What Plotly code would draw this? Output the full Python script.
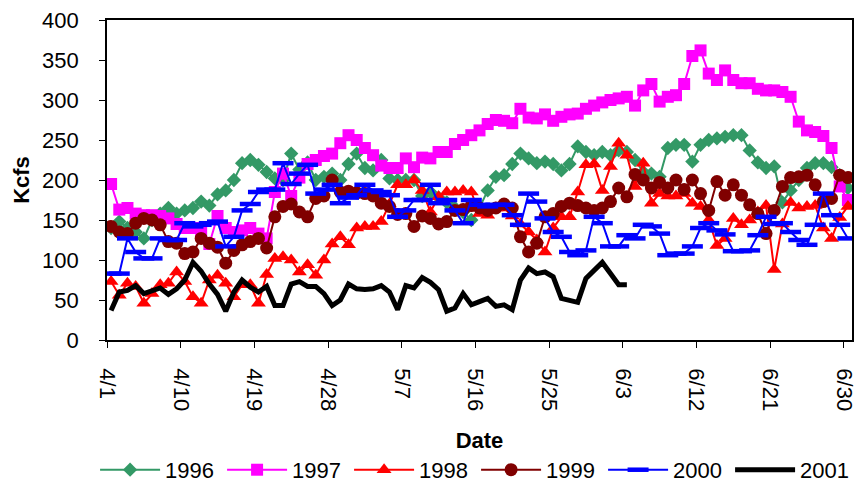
import pandas as pd
import plotly.graph_objects as go

# Daily dates 4/1 .. 6/30 (points plotted at mid-day, like an Excel date axis)
dates = pd.date_range("2001-04-01 12:00", "2001-06-30 12:00", freq="D")

tick_dates = ["2001-04-01", "2001-04-10", "2001-04-19", "2001-04-28", "2001-05-07",
              "2001-05-16", "2001-05-25", "2001-06-03", "2001-06-12", "2001-06-21",
              "2001-06-30"]
tick_labels = ["4/1", "4/10", "4/19", "4/28", "5/7", "5/16", "5/25", "6/3",
               "6/12", "6/21", "6/30"]

y1996 = [140, 148, 140, 135, 127, 150, 158, 165, 158, 162,
         165, 173, 168, 182, 187, 200, 221, 225, 219, 210,
         202, 200, 233, 213, 222, 200, 204, 208, 200, 220,
         233, 215, 212, 225, 202, 200, 200, 200, 180, 185,
         178, 172, 165, 160, 150, 165, 187, 204, 206, 220,
         233, 227, 221, 223, 220, 212, 220, 242, 235, 231,
         235, 231, 237, 235, 225, 210, 208, 204, 240, 244,
         244, 223, 244, 250, 252, 254, 256, 256, 237, 222,
         215, 217, 172, 187, 200, 215, 221, 221, 216, 206, 190]

y1997 = [195, 163, 165, 158, 156, 156, 155, 152, 145, 140,
         140, 135, 120, 155, 140, 135, 137, 140, 133, 127,
         185, 208, 180, 203, 220, 225, 230, 233, 246, 256,
         250, 240, 231, 218, 215, 215, 227, 216, 228, 227,
         235, 235, 245, 250, 256, 262, 270, 275, 274, 271,
         289, 278, 277, 282, 274, 279, 282, 283, 289, 293,
         297, 300, 302, 304, 293, 312, 320, 298, 304, 306,
         320, 355, 362, 333, 325, 337, 325, 321, 321, 314,
         312, 312, 310, 304, 273, 262, 260, 255, 240, 192, 175]

y1998 = [73, 56, 71, 67, 46, 58, 69, 71, 85, 73,
         54, 46, 75, 81, 71, 54, 69, 69, 46, 82,
         102, 104, 100, 85, 94, 81, 100, 120, 129, 119,
         140, 142, 142, 148, 170, 194, 194, 200, 187, 160,
         179, 185, 185, 187, 185, 158, 156, 165, 165, 155,
         145, 135, 125, 110, 140, 154, 154, 185, 219, 220,
         187, 217, 246, 231, 192, 221, 171, 183, 180, 180,
         183, 171, 167, 150, 118, 127, 152, 144, 150, 160,
         168, 88, 145, 172, 165, 167, 168, 140, 127, 153, 167]

y1999 = [142, 135, 133, 146, 152, 150, 144, 123, 121, 108,
         110, 127, 121, 116, 96, 112, 119, 123, 127, 115,
         154, 167, 170, 160, 154, 177, 180, 200, 185, 186,
         184, 183, 180, 171, 167, 157, 158, 142, 155, 152,
         145, 148, 162, 163, 168, 165, 162, 165, 170, 165,
         129, 110, 121, 154, 158, 167, 171, 168, 165, 162,
         165, 173, 190, 179, 207, 200, 190, 197, 190, 200,
         188, 200, 183, 162, 198, 181, 194, 181, 169, 158,
         133, 162, 192, 203, 204, 206, 194, 173, 177, 206, 203]

y2000 = [83, 83, 127, 110, 102, 102, 127, 125, 125, 146,
         142, 144, 146, 148, 117, 129, 162, 170, 185, 188,
         188, 221, 195, 208, 219, 183, 188, 194, 171, 178,
         181, 194, 187, 185, 181, 154, 162, 175, 175, 194,
         171, 175, 162, 146, 175, 169, 167, 169, 169, 156,
         144, 183, 173, 152, 135, 129, 110, 106, 112, 154,
         146, 117, 117, 131, 127, 144, 142, 133, 106, 108,
         108, 117, 140, 146, 137, 132, 111, 111, 112, 131,
         154, 145, 146, 135, 125, 119, 144, 183, 156, 144, 127]

y2001 = [37, 60, 62, 68, 58, 62, 65, 57, 64, 75,
         97, 86, 70, 57, 36, 60, 75, 66, 60, 67,
         43, 43, 70, 73, 67, 67, 58, 43, 50, 70,
         64, 63, 64, 68, 60, 38, 68, 65, 78, 72,
         63, 36, 40, 58, 44, 48, 52, 42, 44, 38,
         75, 90, 83, 85, 79, 52, 50, 47, 77, 88,
         97, 83, 69, 69]

series = [
    ("1996", y1996, "#339966", dict(symbol="diamond", size=11)),
    ("1997", y1997, "#FF00FF", dict(symbol="square", size=12)),
    ("1998", y1998, "#FF0000", dict(symbol="triangle-up", size=13)),
    ("1999", y1999, "#800000", dict(symbol="circle", size=13)),
]

fig = go.Figure()
for name, ys, col, mk in series:
    fig.add_trace(go.Scatter(
        x=dates[:len(ys)], y=ys, name=name, mode="lines+markers",
        line=dict(color=col, width=2),
        marker=dict(color=col, line=dict(width=0), **mk)))

fig.add_trace(go.Scatter(
    x=dates[:len(y2000)], y=y2000, name="2000", mode="lines+markers",
    line=dict(color="#0000FF", width=2),
    marker=dict(symbol="line-ew", size=15, color="#0000FF",
                line=dict(color="#0000FF", width=4.5))))

fig.add_trace(go.Scatter(
    x=dates[:len(y2001)], y=y2001, name="2001", mode="lines",
    line=dict(color="#000000", width=5)))

font = "Arial, Liberation Sans, sans-serif"
fig.update_layout(
    width=858, height=489,
    margin=dict(l=107, r=6, t=20, b=149, autoexpand=False),
    paper_bgcolor="white", plot_bgcolor="white",
    font=dict(family=font, size=22, color="black"),
    showlegend=True,
    legend=dict(orientation="h", x=-0.016, xanchor="left",
                y=-0.406, yanchor="middle",
                font=dict(size=22), itemwidth=60, entrywidth=52,
                tracegroupgap=0, traceorder="normal",
                bgcolor="rgba(0,0,0,0)"),
    xaxis=dict(
        type="date", range=["2001-04-01", "2001-07-01"], automargin=False,
        tickmode="array", tickvals=tick_dates, ticktext=tick_labels,
        tickangle=90, ticks="outside", ticklen=6, tickwidth=1.2,
        tickcolor="black", showgrid=False, zeroline=False,
        ticklabelstandoff=16,
        showline=True, linecolor="black", linewidth=1.8, mirror=True,
        title=dict(text="<b>Date</b>", font=dict(size=22), standoff=22)),
    yaxis=dict(
        range=[0, 400], tickmode="linear", tick0=0, dtick=50, automargin=False,
        ticks="outside", ticklen=6, tickwidth=1.2, tickcolor="black",
        ticklabelstandoff=16,
        showgrid=False, zeroline=False,
        showline=True, linecolor="black", linewidth=1.8, mirror=True,
        title=dict(text="<b>Kcfs</b>", font=dict(size=22), standoff=6)),
)

fig.write_html("out.html")
